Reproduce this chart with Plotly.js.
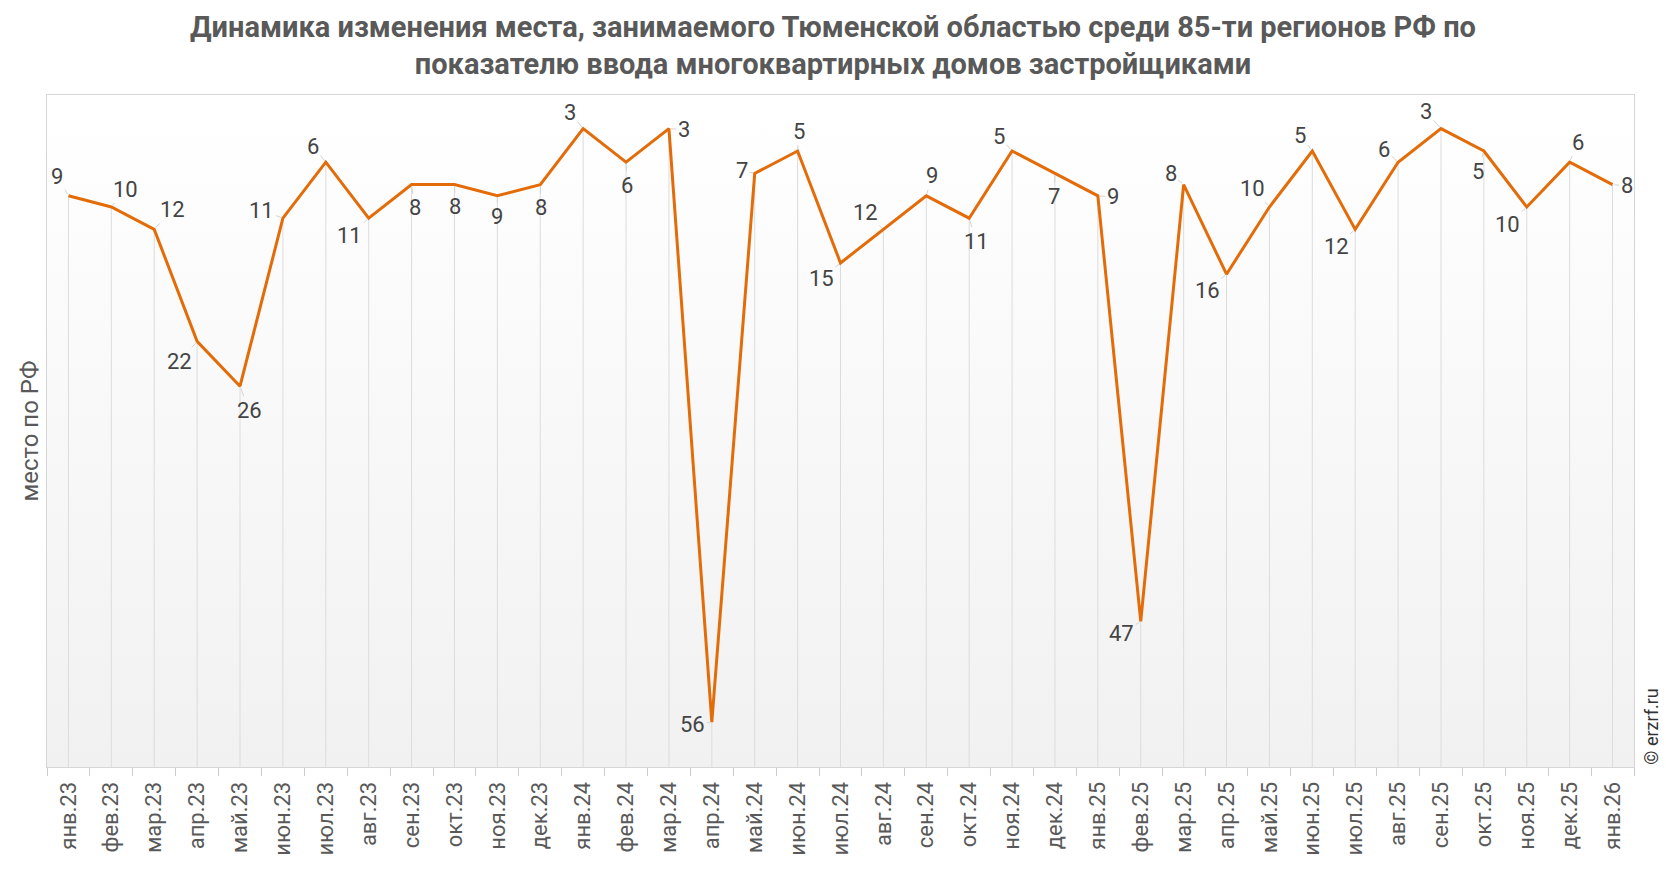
<!DOCTYPE html>
<html>
<head>
<meta charset="utf-8">
<script src="https://cdn.plot.ly/plotly-3.0.1.min.js"></script>
<style>html,body{margin:0;padding:0;background:#fff;}#chart{width:1666px;height:872px;}</style>
</head>
<body>
<div id="chart"></div>
<script>
const months = ['янв.23','фев.23','мар.23','апр.23','май.23','июн.23','июл.23','авг.23','сен.23','окт.23','ноя.23','дек.23',
  'янв.24','фев.24','мар.24','апр.24','май.24','июн.24','июл.24','авг.24','сен.24','окт.24','ноя.24','дек.24',
  'янв.25','фев.25','мар.25','апр.25','май.25','июн.25','июл.25','авг.25','сен.25','окт.25','ноя.25','дек.25',
  'янв.26'];
const ranks = [9,10,12,22,26,11,6,11,8,8,9,8,
  3,6,3,56,7,5,15,12,9,11,5,7,
  9,47,8,16,10,5,12,6,3,5,10,6,
  8];
const totalRegions = 60; // bottom of rank axis
// label offsets (px) relative to each point: [dx, dy]
const labelOffsets = [[-11,-19],[14,-18],[18,-20],[-18,20],[9,24],[-21,-8],[-13,-16],[-19,17],[3,23],[1,22],[0,21],[1,23],
  [-13,-16],[1,23],[15,1],[-19,2],[-13,-3],[1,-20],[-19,15],[-18,-17],[6,-20],[7,23],[-13,-15],[-1,23],
  [15,1],[-19,12],[-13,-11],[-19,16],[-17,-19],[-12,-16],[-19,17],[-14,-13],[-15,-17],[-6,20],[-19,17],[8,-20],
  [14,1]];

const dropLines = {
  x: months, y: ranks, type: 'scatter', mode: 'markers',
  marker: {size: 0.1, color: 'rgba(0,0,0,0)'},
  error_y: {type: 'data', symmetric: false, array: ranks.map(v => totalRegions - v), arrayminus: ranks.map(() => 0),
    width: 0, thickness: 1, color: '#dcdcdc'},
  hoverinfo: 'skip', showlegend: false
};
const line = {
  x: months, y: ranks, type: 'scatter', mode: 'lines',
  line: {color: '#e36c09', width: 3}, showlegend: false
};

const annotations = months.map((m, i) => ({
  x: m, y: ranks[i], xref: 'x', yref: 'y', text: String(ranks[i]),
  showarrow: true, ax: labelOffsets[i][0], ay: labelOffsets[i][1],
  arrowhead: 0, arrowwidth: 1, arrowcolor: '#d4d4d4', standoff: 2,
  font: {family: 'Roboto', size: 22, color: '#444'}
}));
annotations.push({
  xref: 'paper', yref: 'paper', x: 1.0105, y: 0, xanchor: 'center', yanchor: 'bottom',
  text: '© erzrf.ru', textangle: -90, showarrow: false,
  font: {family: 'Roboto', size: 18, color: '#333'}
});

const gradSvg = '<svg xmlns="http://www.w3.org/2000/svg" width="10" height="100" preserveAspectRatio="none">' +
  '<defs><linearGradient id="g" x1="0" y1="0" x2="0" y2="1"><stop offset="0" stop-color="#ffffff"/>' +
  '<stop offset="1" stop-color="#f1f1f1"/></linearGradient></defs><rect width="10" height="100" fill="url(#g)"/></svg>';

const layout = {
  width: 1666, height: 872,
  margin: {l: 47, r: 32, t: 95, b: 105},
  paper_bgcolor: '#ffffff', plot_bgcolor: 'rgba(0,0,0,0)',
  title: {text: 'Динамика изменения места, занимаемого Тюменской областью среди 85-ти регионов РФ по<br>показателю ввода многоквартирных домов застройщиками',
    font: {family: 'Roboto', size: 29, color: '#595959', weight: 'bold'}, x: 0.5, xanchor: 'center', y: 0.958, yanchor: 'middle'},
  xaxis: {type: 'category', range: [-0.5, months.length - 0.5], showgrid: false, zeroline: false,
    showline: true, mirror: true, linecolor: '#d6d6d6', linewidth: 1,
    ticks: 'outside', tickson: 'boundaries', ticklen: 8, tickcolor: '#cccccc', ticklabelstandoff: 5,
    tickangle: -90, tickfont: {family: 'Roboto', size: 22, color: '#595959'}, fixedrange: true},
  yaxis: {range: [totalRegions, 0], showgrid: false, zeroline: false, showticklabels: false, ticks: '',
    showline: true, mirror: true, linecolor: '#d6d6d6', linewidth: 1,
    title: {text: 'место по РФ', font: {family: 'Roboto', size: 24, color: '#595959'}, standoff: 0}, fixedrange: true},
  images: [{source: 'data:image/svg+xml;charset=utf-8,' + encodeURIComponent(gradSvg),
    xref: 'paper', yref: 'paper', x: 0, y: 1, sizex: 1, sizey: 1, sizing: 'stretch',
    xanchor: 'left', yanchor: 'top', layer: 'below'}],
  annotations: annotations
};

Plotly.newPlot('chart', [dropLines, line], layout, {displayModeBar: false, staticPlot: true});
</script>
</body>
</html>
